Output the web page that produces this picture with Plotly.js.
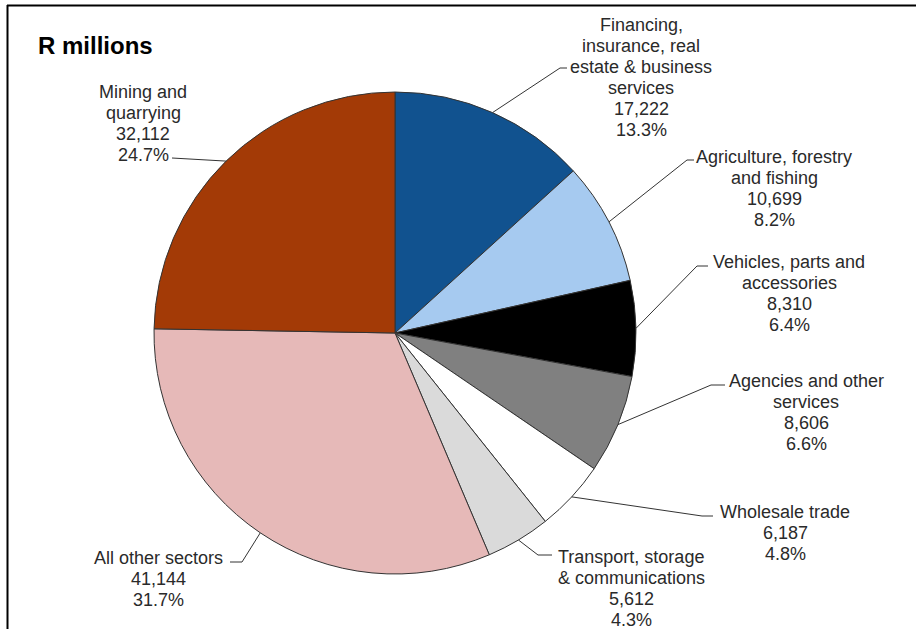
<!DOCTYPE html>
<html>
<head>
<meta charset="utf-8">
<script src="https://cdn.plot.ly/plotly-3.0.1.min.js"></script>
<style>html,body{margin:0;padding:0;background:#fff;}#chart{width:916px;height:629px;}</style>
</head>
<body>
<div id="chart"></div>
<script>
// ---- Data ----
const sectors = [
  "Financing, insurance, real estate & business services",
  "Agriculture, forestry and fishing",
  "Vehicles, parts and accessories",
  "Agencies and other services",
  "Wholesale trade",
  "Transport, storage & communications",
  "All other sectors",
  "Mining and quarrying"
];
const values = [17222, 10699, 8310, 8606, 6187, 5612, 41144, 32112];
const labelNameLines = [
  ["Financing,", "insurance, real", "estate & business", "services"],
  ["Agriculture, forestry", "and fishing"],
  ["Vehicles, parts and", "accessories"],
  ["Agencies and other", "services"],
  ["Wholesale trade"],
  ["Transport, storage", "& communications"],
  ["All other sectors"],
  ["Mining and", "quarrying"]
];
const titleText = "R millions";

// ---- Styles ----
const colors = ["#11528f", "#a6caf0", "#000000", "#808080", "#ffffff", "#dadada", "#e6b9b8", "#a33a06"];

// ---- Layout (pixels) ----
const W = 916, H = 629;
const pieCenter = [395, 333], pieR = 241;
const labelPos = [
  {cx: 641, y0: 25,  elbow: [560, 68],  end: [567, 68]},
  {cx: 774, y0: 157, elbow: [687, 160], end: [694, 160]},
  {cx: 789, y0: 262, elbow: [697, 266], end: [708, 266]},
  {cx: 806, y0: 381, elbow: [711, 385], end: [725, 385]},
  {cx: 785, y0: 512, elbow: [702, 516], end: [713, 516]},
  {cx: 631, y0: 557, elbow: [538, 555], end: [552, 555]},
  {cx: 158, y0: 558, elbow: [242, 562], end: [230, 562]},
  {cx: 143, y0: 92,  elbow: [172, 158], end: [172, 158]}
];
const lineGap = 21;
const fontFam = "Liberation Sans, Arial, sans-serif";
const textColor = "#2a2a2a";

const px = x => x / W;
const py = y => 1 - y / H;

const total = values.reduce((a, b) => a + b, 0);
const annotations = [];
const shapes = [];
let cum = 0;
values.forEach((v, i) => {
  const frac = v / total;
  const mid = (cum + frac / 2) * 2 * Math.PI; // clockwise from 12 o'clock
  cum += frac;
  const ex = pieCenter[0] + pieR * Math.sin(mid);
  const ey = pieCenter[1] - pieR * Math.cos(mid);
  const lines = labelNameLines[i].concat([
    v.toLocaleString("en-US"),
    (frac * 100).toFixed(1) + "%"
  ]);
  const lp = labelPos[i];
  lines.forEach((t, k) => {
    annotations.push({
      xref: "paper", yref: "paper",
      x: px(lp.cx), y: py(lp.y0 + k * lineGap),
      xanchor: "center", yanchor: "middle",
      text: t, showarrow: false,
      font: {family: fontFam, size: 18, color: textColor}
    });
  });
  shapes.push({
    type: "path", xref: "paper", yref: "paper",
    path: `M ${px(ex)} ${py(ey)} L ${px(lp.elbow[0])} ${py(lp.elbow[1])} L ${px(lp.end[0])} ${py(lp.end[1])}`,
    line: {color: "#333333", width: 1}
  });
});

// frame (top and left)
shapes.push({type: "line", xref: "paper", yref: "paper", x0: px(7), x1: 1, y0: py(5.5), y1: py(5.5), line: {color: "#000", width: 2}});
shapes.push({type: "line", xref: "paper", yref: "paper", x0: px(7.5), x1: px(7.5), y0: py(5), y1: 0, line: {color: "#000", width: 2}});

const trace = {
  type: "pie",
  labels: sectors,
  values: values,
  sort: false,
  direction: "clockwise",
  rotation: 0,
  textinfo: "none",
  hoverinfo: "skip",
  showlegend: false,
  marker: {colors: colors, line: {color: "#333333", width: 1}},
  domain: {
    x: [px(pieCenter[0] - pieR), px(pieCenter[0] + pieR)],
    y: [py(pieCenter[1] + pieR), py(pieCenter[1] - pieR)]
  }
};

const layout = {
  width: W, height: H,
  margin: {l: 0, r: 0, t: 0, b: 0},
  paper_bgcolor: "#ffffff",
  plot_bgcolor: "#ffffff",
  showlegend: false,
  title: {
    text: "<b>" + titleText + "</b>",
    x: px(38), xanchor: "left", xref: "paper",
    y: py(46), yanchor: "middle", yref: "container",
    font: {family: fontFam, size: 24, color: "#000"}
  },
  annotations: annotations,
  shapes: shapes
};

Plotly.newPlot("chart", [trace], layout, {staticPlot: true, displayModeBar: false});
</script>
</body>
</html>
